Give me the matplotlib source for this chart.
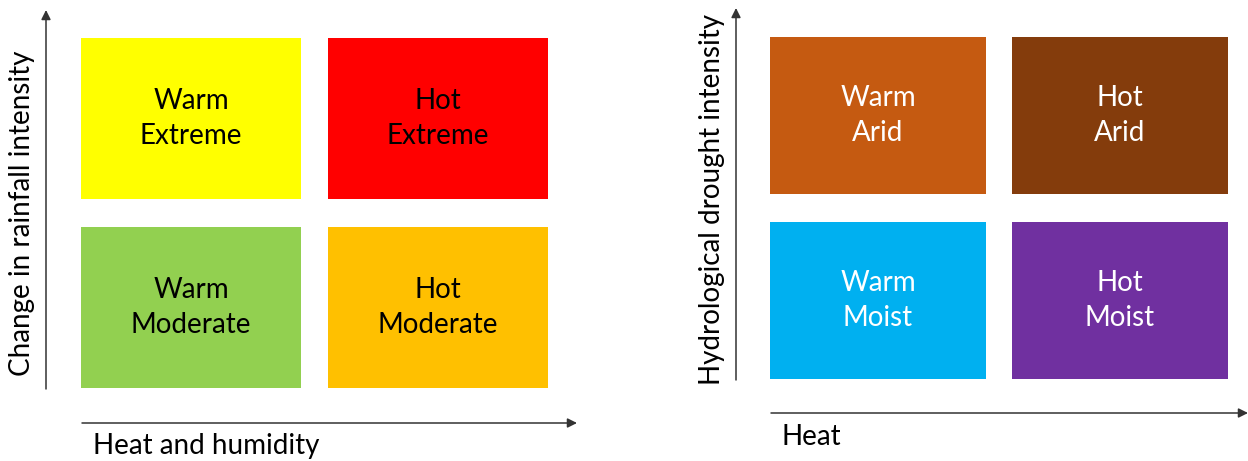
import matplotlib
matplotlib.use("Agg")
import matplotlib.pyplot as plt
from matplotlib.patches import Rectangle

plt.rcParams["font.family"] = ["Lato", "DejaVu Sans"]

# left panel: rainfall
rain_labels = [["Warm\nExtreme", "Hot\nExtreme"], ["Warm\nModerate", "Hot\nModerate"]]
rain_colors = [["#FFFF00", "#FF0000"], ["#92D050", "#FFC000"]]
rain_xlabel = "Heat and humidity"
rain_ylabel = "Change in rainfall intensity"

# right panel: drought
drought_labels = [["Warm\nArid", "Hot\nArid"], ["Warm\nMoist", "Hot\nMoist"]]
drought_colors = [["#C55A11", "#843C0C"], ["#00B0F0", "#7030A0"]]
drought_xlabel = "Heat"
drought_ylabel = "Hydrological drought intensity"


def draw_panel(ax, labels, colors, text_color, x0, y0, w, h, gx, gy,
               axis_x, axis_y, arrow_top, arrow_right, xlabel, xlabel_pos, ylabel, ylabel_pos):
    for r in range(2):
        for c in range(2):
            bx = x0 + c * (w + gx)
            by = y0 + r * (h + gy)
            ax.add_patch(Rectangle((bx, by), w, h, facecolor=colors[r][c], edgecolor="none"))
            ax.text(bx + w / 2, by + h / 2, labels[r][c], ha="center", va="center",
                    fontsize=20, color=text_color, linespacing=1.42)

    bottom = y0 + 2 * h + gy
    arrow = dict(arrowstyle="-|>", lw=1.1, color="#333333", mutation_scale=14, shrinkA=0, shrinkB=0)
    ax.annotate("", xy=(axis_x, arrow_top), xytext=(axis_x, bottom + 1), arrowprops=arrow)
    ax.annotate("", xy=(arrow_right, axis_y), xytext=(x0 + 1, axis_y), arrowprops=arrow)

    ax.text(xlabel_pos[0], xlabel_pos[1], xlabel, ha="left", va="center", fontsize=20)
    ax.text(ylabel_pos[0], ylabel_pos[1], ylabel, ha="center", va="center", fontsize=20, rotation=90)


fig = plt.figure(figsize=(12.48, 4.61), dpi=100)
ax = fig.add_axes([0, 0, 1, 1])
ax.set_xlim(0, 1248)
ax.set_ylim(461, 0)
ax.axis("off")

draw_panel(ax, rain_labels, rain_colors, "black", 81, 38, 220, 161, 27, 28,
           46, 423, 10, 577, rain_xlabel, (93, 446), rain_ylabel, (22, 213))
draw_panel(ax, drought_labels, drought_colors, "white", 770, 37, 216, 157, 26, 28,
           736, 413, 8, 1248, drought_xlabel, (782, 437), drought_ylabel, (712, 199))

fig.savefig("out.png", dpi=100)
